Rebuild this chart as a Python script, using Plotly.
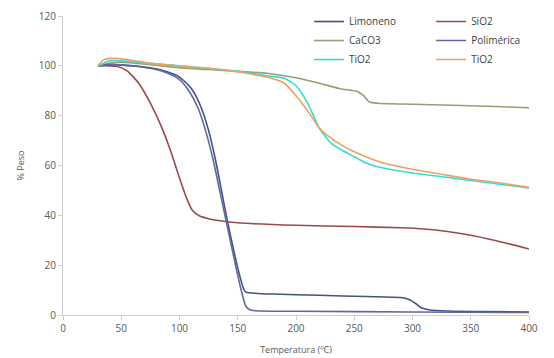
import plotly.graph_objects as go

# ---- data ----
lim_t = [30, 40, 50, 60, 70, 80, 90, 100, 110, 118, 125, 131, 136, 141, 146, 151, 155, 157, 160, 180, 220, 260, 290, 297, 303, 308, 315, 330, 360, 400]
lim_v = [100, 100.5, 100.3, 100, 99.5, 98.8, 97.5, 95.5, 91, 84, 74, 62, 50, 38, 27, 17, 10.5, 9.2, 8.9, 8.4, 7.9, 7.4, 7.0, 6.2, 4.5, 2.8, 2.0, 1.6, 1.4, 1.2]

sio_t = [30, 40, 46, 55, 65, 75, 85, 93, 100, 106, 111, 117, 125, 135, 150, 200, 250, 290, 310, 330, 350, 370, 400]
sio_v = [100, 100, 99.8, 98, 93, 85, 75, 65, 55, 47, 42, 39.8, 38.6, 37.8, 37, 36, 35.5, 35, 34.5, 33.5, 32, 30, 26.5]

cac_t = [30, 40, 50, 75, 100, 125, 150, 175, 200, 220, 238, 253, 258, 263, 270, 300, 350, 400]
cac_v = [100, 101, 101.5, 100.5, 99.3, 98.5, 97.8, 97, 95.2, 93, 90.8, 89.6, 88, 85.5, 85, 84.6, 84, 83.2]

pol_t = [30, 40, 50, 60, 70, 80, 90, 100, 108, 116, 123, 129, 134, 139, 144, 149, 154, 157, 160, 165, 200, 300, 400]
pol_v = [100, 100.6, 100.4, 100, 99.3, 98.5, 97, 94.5, 90, 83, 73, 62, 51, 40, 29, 18, 8, 3.5, 2.2, 1.7, 1.5, 1.2, 1.0]

tic_t = [30, 40, 50, 75, 100, 125, 150, 175, 190, 200, 210, 220, 230, 240, 250, 260, 275, 300, 325, 350, 375, 400]
tic_v = [100, 102, 102, 101, 100, 99, 97.8, 96, 95, 92, 85, 75, 69, 66, 63.5, 61, 59, 57, 55.5, 54, 52.5, 51]

tio_t = [30, 35, 45, 55, 75, 100, 125, 150, 175, 190, 200, 210, 220, 230, 240, 250, 260, 275, 300, 325, 350, 375, 400]
tio_v = [100, 102.5, 103, 102.5, 101, 100, 99, 97.5, 95.5, 93, 88, 82, 75, 71, 68, 65.5, 63.5, 61, 58.5, 56.5, 54.5, 53, 51.2]

x_ticks = [0, 50, 100, 150, 200, 250, 300, 350, 400]
y_ticks = [0, 20, 40, 60, 80, 100, 120]

series = [
    ("Limoneno", lim_t, lim_v, "#44547A", "legend"),
    ("SiO2", sio_t, sio_v, "#9A4A4A", "legend2"),
    ("CaCO3", cac_t, cac_v, "#93A070", "legend"),
    ("Polimérica", pol_t, pol_v, "#6066A8", "legend2"),
    ("TiO2", tic_t, tic_v, "#33DDD6", "legend"),
    ("TiO2", tio_t, tio_v, "#EDA262", "legend2"),
]

fig = go.Figure()
for name, t, v, c, lg in series:
    fig.add_trace(go.Scatter(x=t, y=v, name=name, mode="lines",
                             line=dict(color=c, width=1.6, shape="spline", smoothing=0.6),
                             legend=lg))

font_family = "Open Sans, Liberation Sans, sans-serif"
leg_common = dict(bgcolor="rgba(0,0,0,0)", font=dict(family=font_family, size=10, color="#404040"),
                  yanchor="top", xanchor="left", tracegroupgap=0, itemwidth=30)

# page body has an 8px margin, so the figure is sized to fit the window
fig.update_layout(
    width=546, height=350,
    margin=dict(l=55, r=25, t=8, b=43, autoexpand=False),
    paper_bgcolor="white", plot_bgcolor="white",
    font=dict(family=font_family, color="#595959"),
    legend=dict(x=0.528, y=1.03, **leg_common),
    legend2=dict(x=0.79, y=1.03, **leg_common),
    showlegend=True,
)
fig.update_xaxes(range=[0, 400], tickvals=x_ticks, showgrid=False, zeroline=False,
                 showline=True, linecolor="#D0D0D0", linewidth=1, automargin=False,
                 ticks="outside", tickcolor="#D0D0D0", ticklen=4,
                 tickfont=dict(size=10, color="#595959"),
                 title=dict(text="Temperatura (ºC)", font=dict(size=9, color="#595959"), standoff=12))
fig.update_yaxes(range=[0, 120], tickvals=y_ticks, showgrid=False, zeroline=False,
                 showline=True, linecolor="#D0D0D0", linewidth=1, automargin=False,
                 ticks="outside", tickcolor="#D0D0D0", ticklen=4,
                 tickfont=dict(size=10, color="#595959"),
                 title=dict(text="% Peso", font=dict(size=9, color="#595959"), standoff=12))

fig.write_html("out.html")
